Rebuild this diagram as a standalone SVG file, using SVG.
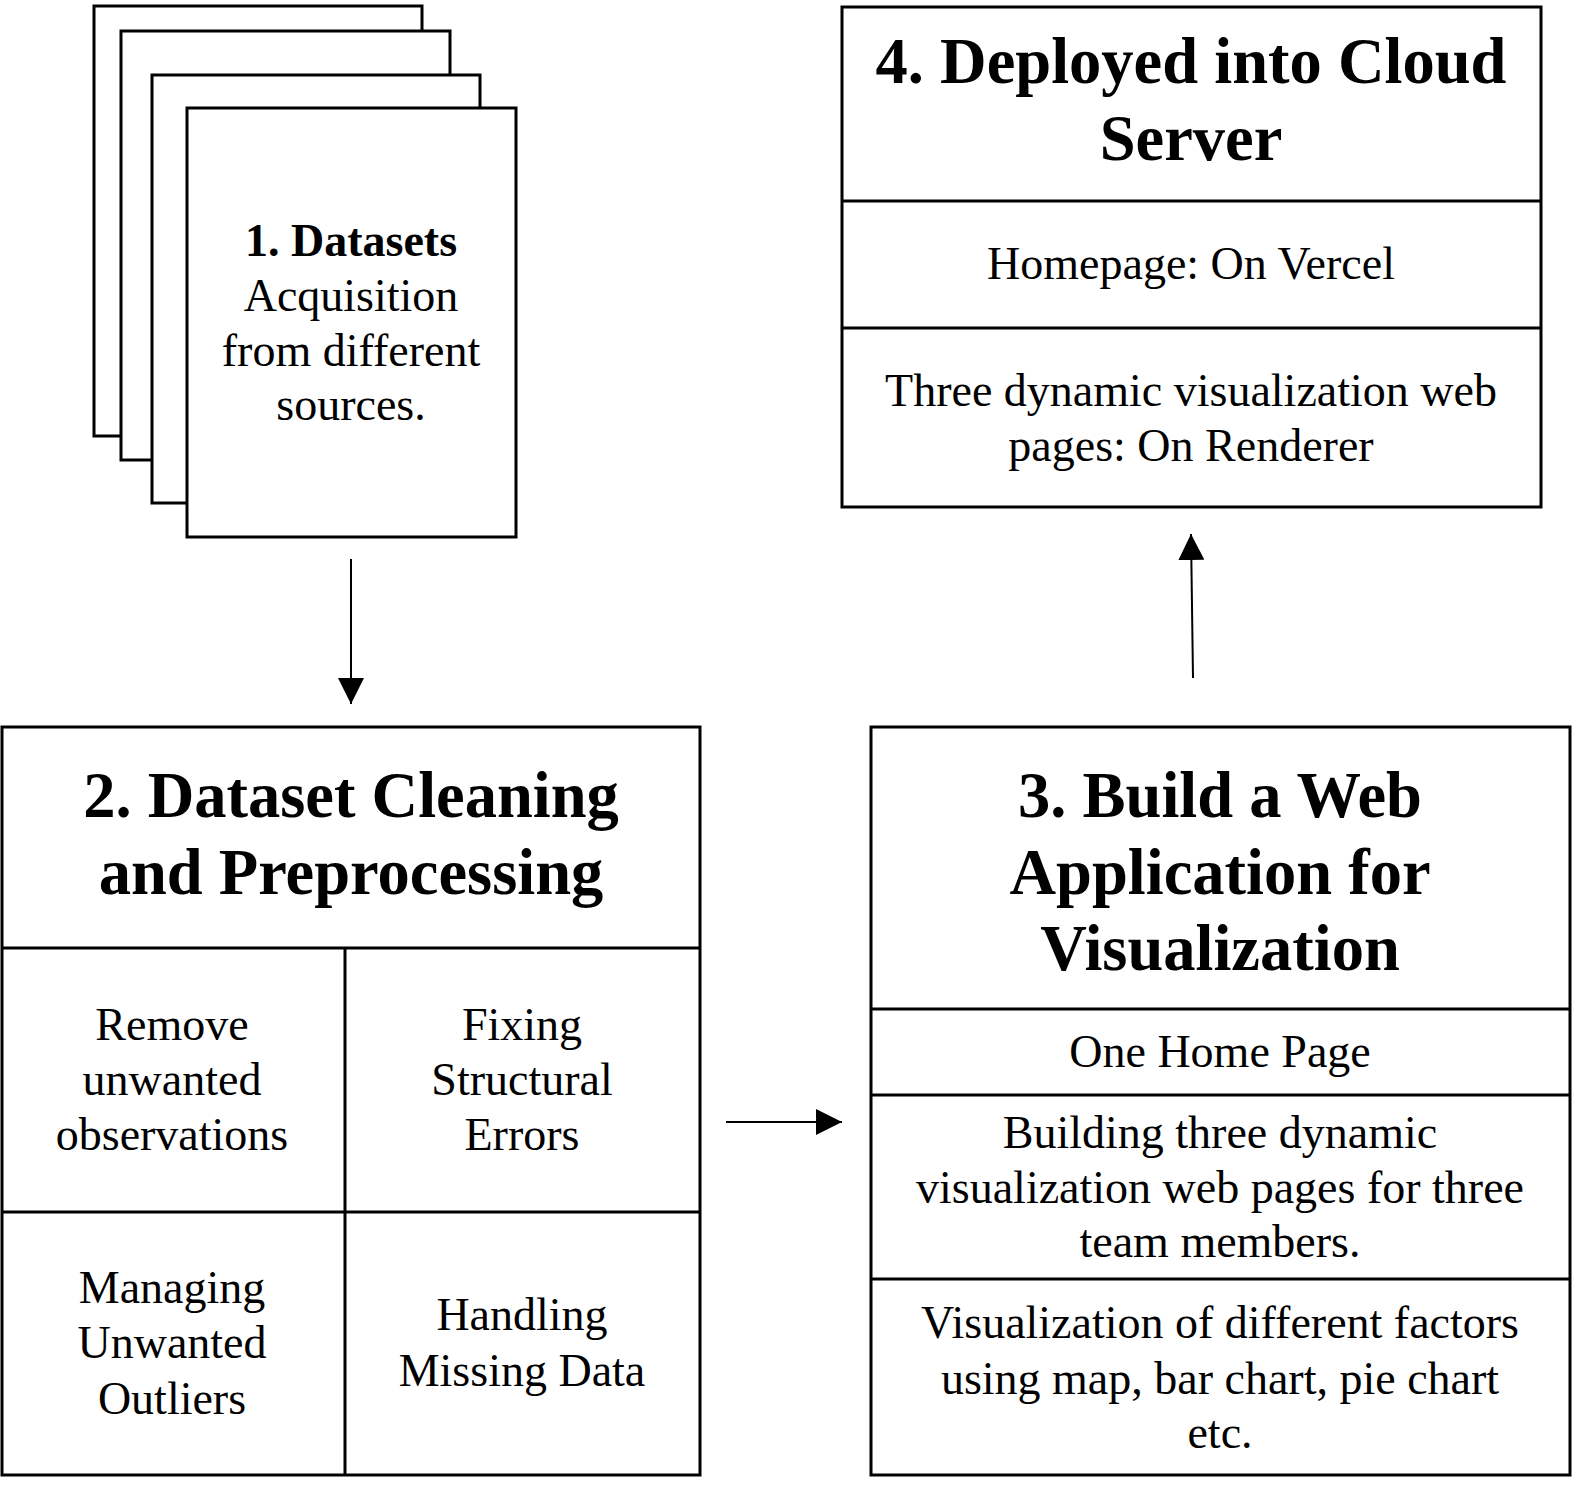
<svg xmlns="http://www.w3.org/2000/svg" width="1572" height="1488" viewBox="0 0 1572 1488">
<style>
.b{fill:#fff;stroke:#000;stroke-width:3}
.l{stroke:#000;stroke-width:3;fill:none}
.t{font-family:"Liberation Serif","Times New Roman",serif;font-size:46px;text-anchor:middle;fill:#000}
.h{font-family:"Liberation Serif","Times New Roman",serif;font-size:64.5px;font-weight:bold;text-anchor:middle;fill:#000}
.c{stroke:#000;stroke-width:2;fill:none}
</style>
<defs>
<marker id="ah" viewBox="0 0 10 10" refX="10" refY="5" markerWidth="26" markerHeight="26" markerUnits="userSpaceOnUse" orient="auto">
<path d="M0,0 L10,5 L0,10 Z" fill="#000"/>
</marker>
</defs>
<g id="node1">
<rect class="b" x="94" y="6" width="328" height="430"/>
<rect class="b" x="121" y="31" width="329" height="429"/>
<rect class="b" x="152" y="75" width="328" height="428"/>
<rect class="b" x="187" y="108" width="329" height="429"/>
<text class="t" x="351" y="256" style="font-weight:bold">1. Datasets</text>
<text class="t" x="351" y="311">Acquisition</text>
<text class="t" x="351" y="366">from different</text>
<text class="t" x="351" y="420">sources.</text>
</g>
<g id="node2">
<rect class="b" x="2" y="727" width="698" height="748"/>
<line class="l" x1="2" y1="948" x2="700" y2="948"/>
<line class="l" x1="345" y1="948" x2="345" y2="1475"/>
<line class="l" x1="2" y1="1212" x2="700" y2="1212"/>
<text class="h" x="351" y="817">2. Dataset Cleaning</text>
<text class="h" x="351" y="894">and Preprocessing</text>
<text class="t" x="172" y="1040">Remove</text>
<text class="t" x="172" y="1095">unwanted</text>
<text class="t" x="172" y="1150">observations</text>
<text class="t" x="522" y="1040">Fixing</text>
<text class="t" x="522" y="1095">Structural</text>
<text class="t" x="522" y="1150">Errors</text>
<text class="t" x="172" y="1303">Managing</text>
<text class="t" x="172" y="1358">Unwanted</text>
<text class="t" x="172" y="1414">Outliers</text>
<text class="t" x="522" y="1330">Handling</text>
<text class="t" x="522" y="1386">Missing Data</text>
</g>
<g id="node3">
<rect class="b" x="871" y="727" width="699" height="748"/>
<line class="l" x1="871" y1="1009" x2="1570" y2="1009"/>
<line class="l" x1="871" y1="1095" x2="1570" y2="1095"/>
<line class="l" x1="871" y1="1279" x2="1570" y2="1279"/>
<text class="h" x="1220" y="817">3. Build a Web</text>
<text class="h" x="1220" y="894">Application for</text>
<text class="h" x="1220" y="970">Visualization</text>
<text class="t" x="1220" y="1067">One Home Page</text>
<text class="t" x="1220" y="1148">Building three dynamic</text>
<text class="t" x="1220" y="1203">visualization web pages for three</text>
<text class="t" x="1220" y="1257">team members.</text>
<text class="t" x="1220" y="1338">Visualization of different factors</text>
<text class="t" x="1220" y="1394">using map, bar chart, pie chart</text>
<text class="t" x="1220" y="1448">etc.</text>
</g>
<g id="node4">
<rect class="b" x="842" y="7" width="699" height="500"/>
<line class="l" x1="842" y1="201" x2="1541" y2="201"/>
<line class="l" x1="842" y1="328" x2="1541" y2="328"/>
<text class="h" x="1191" y="83">4. Deployed into Cloud</text>
<text class="h" x="1191" y="160">Server</text>
<text class="t" x="1191" y="279">Homepage: On Vercel</text>
<text class="t" x="1191" y="406">Three dynamic visualization web</text>
<text class="t" x="1191" y="461">pages: On Renderer</text>
</g>
<g id="connectors">
<line class="c" x1="351" y1="559" x2="351" y2="704" marker-end="url(#ah)"/>
<line class="c" x1="726" y1="1122" x2="842" y2="1122" marker-end="url(#ah)"/>
<line class="c" x1="1193" y1="678" x2="1191" y2="534" marker-end="url(#ah)"/>
</g>
</svg>
